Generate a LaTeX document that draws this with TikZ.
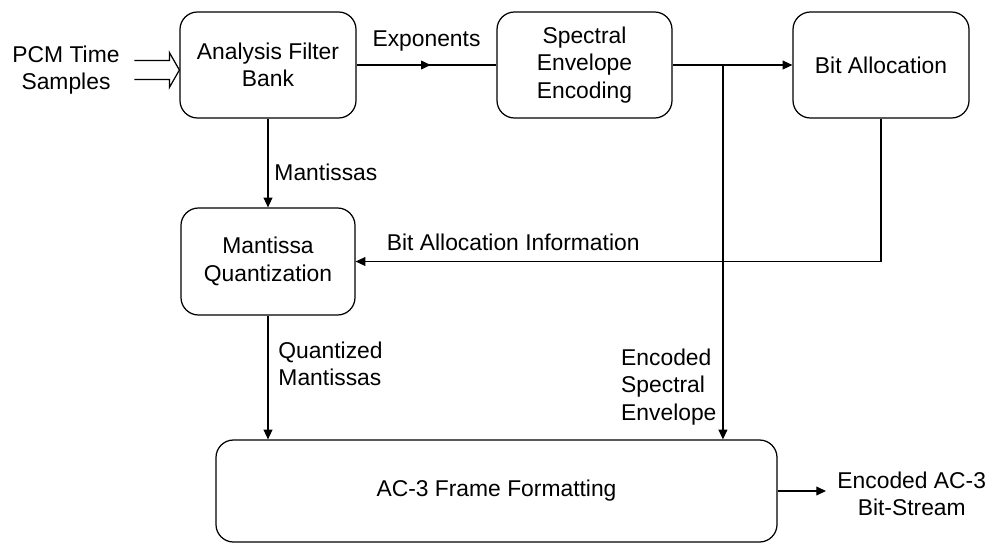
\documentclass[tikz,border=0pt]{standalone}
\usepackage{fontspec}
\setmainfont{Liberation Sans}
\usetikzlibrary{arrows.meta,positioning,calc,decorations.markings}
\tikzset{>={Triangle[length=5.5pt,width=5pt]}}

\begin{document}
\begin{tikzpicture}[line width=0.7pt, font=\fontsize{13}{15.6}\selectfont]
  % Estilos
  \tikzset{
    blk/.style={draw,rounded corners=0.35cm,align=center,minimum width=3.52cm,minimum height=2.12cm,inner sep=2pt},
    lab/.style={align=left},
    midarrow/.style={postaction={decorate},
      decoration={markings,mark=at position 0.53 with {\arrow{>}}}}
  }
  \useasboundingbox (0,0) rectangle (19.86,-10.88);

  %================= BLOQUES =================
  \node[blk] (afb) at (5.36,-1.30) {Analysis Filter\\Bank};
  \node[blk,minimum width=3.50cm] (see) at (11.69,-1.30) {Spectral\\Envelope\\Encoding};
  \node[blk] (ba) at (17.62,-1.30) {Bit Allocation};
  \node[blk,minimum width=3.48cm,minimum height=2.14cm] (mq) at (5.36,-5.23) {Mantissa\\Quantization};
  \node[blk,minimum width=11.22cm,minimum height=2.04cm] (ac3) at (9.93,-9.82) {AC-3 Frame Formatting};

  %================= ENTRADA / SALIDA =================
  \node[align=center] (pcm) at (1.32,-1.40) {PCM Time\\Samples};
  \node[align=center,anchor=west] (out) at (16.62,-9.88) {Encoded AC-3\\Bit-Stream};

  % flecha hueca de entrada
  \coordinate (tip) at ($(afb.west)+(0,-0.1)$);
  \draw (tip) ++(-0.9,0.19) -- ++(0.7,0) -- ++(0,0.16) -- (tip)
        -- ++(-0.2,-0.35) -- ++(0,0.16) -- ++(-0.7,0);

  %================= CONEXIONES =================
  \draw[midarrow] (afb) -- (see) node[midway,above=0.15cm] {Exponents};

  \coordinate (jn) at ($(see.east)!0.42!(ba.west)$);
  \draw[->] (see) -- (ba);
  \draw[->] (jn) -- (jn |- ac3.north)
     node[lab,pos=0.86,anchor=east] {Encoded\\Spectral\\Envelope};

  \draw[->] (afb) -- (mq) node[lab,pos=0.6,anchor=west] {Mantissas};
  \draw[->] (mq) -- (mq |- ac3.north)
     node[lab,pos=0.39,anchor=west,xshift=0.08cm] {Quantized\\Mantissas};

  % realimentacion de bit allocation
  \draw[->] (ba.south) |- (mq.east)
     node[pos=0.85,above=0.08cm] {Bit Allocation Information};

  \draw[->] (ac3.east) -- ([xshift=-0.1cm]ac3.east -| out.west);

\end{tikzpicture}
\end{document}
